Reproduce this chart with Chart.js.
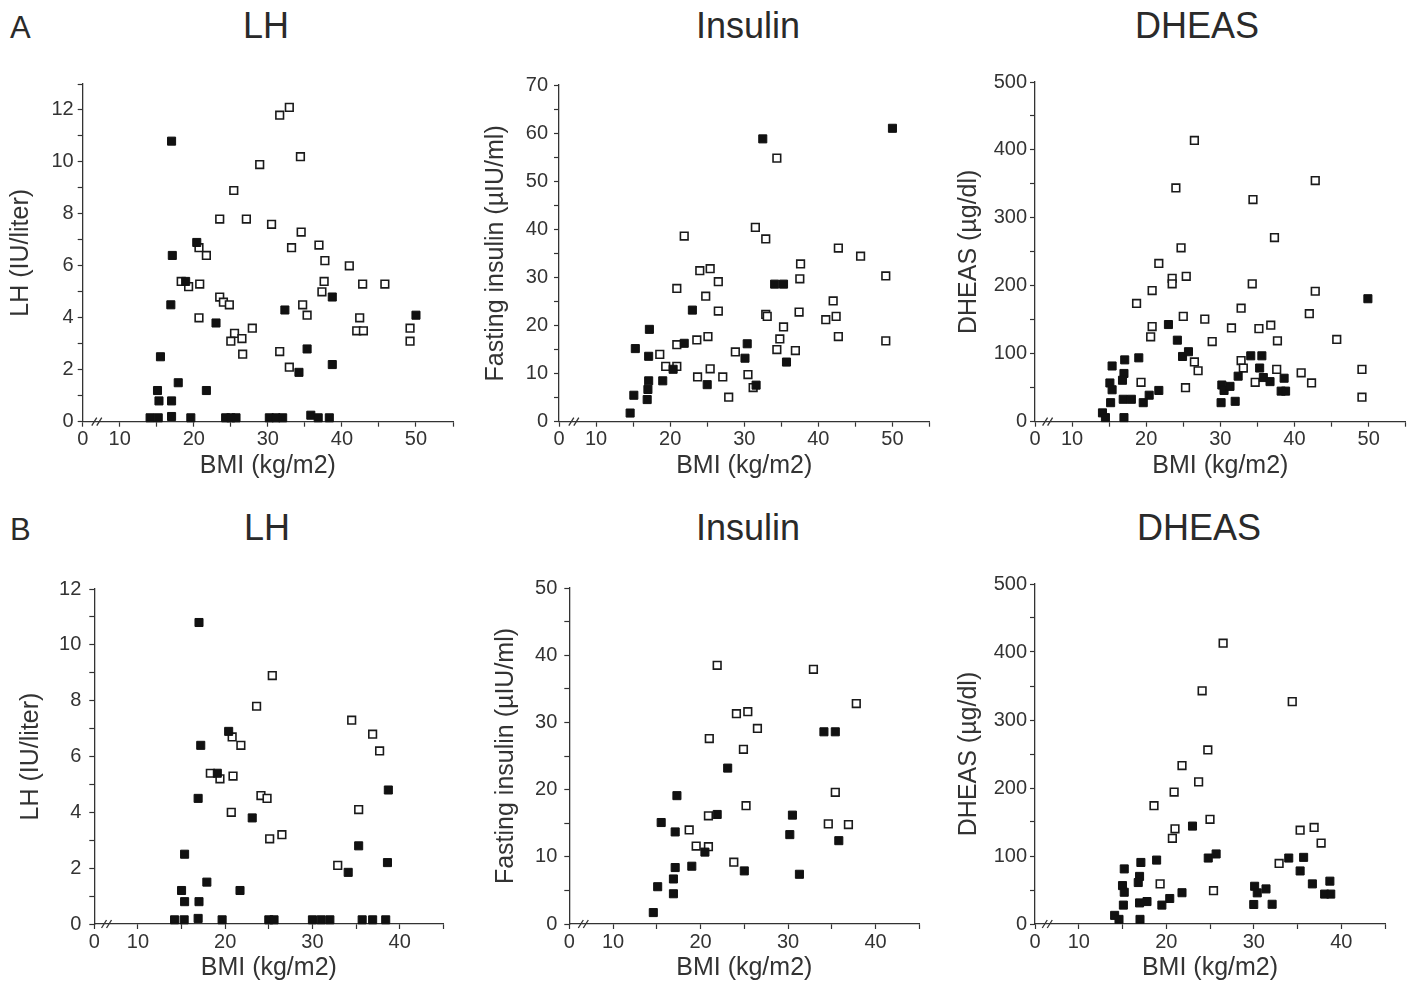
<!DOCTYPE html>
<html>
<head>
<meta charset="utf-8">
<script src="https://cdn.jsdelivr.net/npm/chart.js@4"></script>
<style>
  html, body { margin: 0; padding: 0; background: #fff; overflow: hidden; }
  body { width: 1417px; height: 989px; position: relative; font-family: 'Liberation Sans', Arial, sans-serif; color: #2a2a2a; }
  canvas { position: absolute; }
  .lbl { position: absolute; line-height: 1; white-space: nowrap; transform: translate(-50%, -50%); }
  .row { font-size: 31px; transform: translate(0, -50%); }
  .ttl { font-size: 36px; }
</style>
</head>
<body>
<div class="lbl row" style="left:10px; top:27px;">A</div>
<div class="lbl row" style="left:10px; top:529px;">B</div>
<div class="lbl ttl" style="left:266px; top:26px;">LH</div>
<div class="lbl ttl" style="left:748px; top:26px;">Insulin</div>
<div class="lbl ttl" style="left:1197px; top:26px;">DHEAS</div>
<div class="lbl ttl" style="left:267px; top:528px;">LH</div>
<div class="lbl ttl" style="left:748px; top:528px;">Insulin</div>
<div class="lbl ttl" style="left:1199px; top:528px;">DHEAS</div>

<canvas id="aLh"></canvas>
<canvas id="aIns"></canvas>
<canvas id="aDh"></canvas>
<canvas id="bLh"></canvas>
<canvas id="bIns"></canvas>
<canvas id="bDh"></canvas>

<script>
// ---- data: [BMI, value] ----
// filled squares and open squares
const aLhFilled = [[17.0,10.8],[17.1,6.4],[16.9,4.5],[20.4,6.9],[18.9,5.4],[23.0,3.8],[15.5,2.5],[15.1,1.2],[15.3,0.8],[17.0,0.8],[17.9,1.5],[21.7,1.2],[32.3,4.3],[35.3,2.8],[34.2,1.9],[38.7,4.8],[38.7,2.2],[50.0,4.1],
  [14.1,0.15],[15.2,0.15],[17.0,0.2],[19.6,0.15],[24.3,0.15],[25.0,0.15],[25.7,0.15],[30.2,0.15],[31.1,0.15],[32.0,0.15],[35.8,0.25],[36.8,0.15],[38.3,0.15]];
const aLhOpen = [[32.9,12.1],[31.6,11.8],[34.4,10.2],[28.9,9.9],[25.4,8.9],[23.5,7.8],[27.1,7.8],[30.5,7.6],[34.5,7.3],[33.2,6.7],[36.9,6.8],[20.7,6.7],[21.7,6.4],[37.7,6.2],[41.0,6.0],[18.3,5.4],[19.3,5.2],[20.8,5.3],[37.6,5.4],[37.3,5.0],[42.8,5.3],[45.8,5.3],[23.5,4.8],[24.0,4.6],[24.8,4.5],[34.7,4.5],[35.3,4.1],[20.7,4.0],[42.4,4.0],[42.0,3.5],[42.9,3.5],[49.2,3.6],[49.2,3.1],[27.9,3.6],[25.5,3.4],[25.0,3.1],[26.5,3.2],[26.6,2.6],[31.6,2.7],[32.9,2.1]];

const aInsFilled = [[32.5,58.8],[50.0,61.0],[23.0,23.2],[17.2,19.2],[15.3,15.2],[17.1,13.6],[21.9,16.3],[17.1,8.5],[17.0,6.7],[16.9,4.6],[15.1,5.5],[14.6,1.8],[19.0,8.5],[20.4,10.9],[25.0,7.7],[30.4,16.2],[30.1,13.2],[31.6,7.6],[34.1,28.6],[35.3,28.6],[35.7,12.4]];
const aInsOpen = [[34.4,54.8],[31.5,40.4],[32.9,38.0],[21.9,38.6],[24.0,31.4],[25.4,31.8],[20.9,27.7],[26.5,29.1],[24.8,26.1],[26.5,23.0],[23.6,17.0],[25.1,17.7],[20.9,16.0],[18.6,14.0],[19.4,11.5],[20.9,11.5],[23.7,9.3],[25.4,11.0],[27.1,9.3],[27.9,5.1],[28.8,14.5],[30.5,9.8],[31.2,7.1],[32.9,22.3],[33.1,21.9],[37.6,32.8],[37.5,29.7],[37.4,22.8],[35.3,19.7],[34.8,17.2],[34.4,15.0],[36.9,14.8],[42.7,36.1],[45.7,34.4],[42.0,25.1],[41.0,21.2],[42.4,21.9],[42.7,17.7],[49.1,30.3],[49.1,16.8]];

const aDhFilled = [[49.9,181],[23.0,143],[24.2,120],[24.9,96],[25.7,103],[19.0,94],[17.1,91],[15.4,82],[17.0,71],[16.8,61],[15.1,57],[15.4,47],[15.2,28],[16.9,33],[18.0,33],[19.6,28],[20.4,39],[21.7,46],[14.1,13],[14.5,6],[17.0,6],[30.1,28],[30.2,54],[30.5,46],[31.3,52],[32.0,30],[32.4,67],[34.1,97],[35.6,97],[35.3,79],[35.8,65],[36.7,59],[38.6,64],[38.2,45],[38.8,45]];
const aDhOpen = [[26.5,414],[24.0,344],[34.4,327],[42.8,355],[37.3,271],[24.7,256],[21.7,233],[23.5,211],[23.5,203],[25.4,214],[20.8,193],[18.7,174],[34.3,203],[42.8,192],[32.8,167],[25.0,155],[27.9,151],[20.8,140],[20.6,125],[28.9,118],[31.5,138],[35.2,137],[36.8,142],[37.7,119],[42.0,159],[45.7,121],[49.1,77],[49.1,36],[26.5,88],[27.0,75],[25.3,50],[19.3,58],[32.8,90],[33.1,79],[34.7,58],[37.6,77],[40.9,72],[42.3,57]];

const bLhFilled = [[17.0,10.8],[17.2,6.4],[16.9,4.5],[20.4,6.9],[19.1,5.4],[23.1,3.8],[15.35,2.5],[15.0,1.2],[15.35,0.8],[17.0,0.8],[17.9,1.5],[21.7,1.2],[34.1,1.85],[35.3,2.8],[38.7,4.8],[38.6,2.2],
  [14.2,0.15],[15.3,0.15],[16.9,0.2],[19.65,0.15],[25.0,0.15],[25.6,0.15],[30.0,0.15],[31.0,0.15],[32.0,0.15],[35.7,0.15],[36.9,0.15],[38.4,0.15]];
const bLhOpen = [[25.4,8.9],[23.6,7.8],[34.5,7.3],[36.9,6.8],[20.8,6.7],[21.8,6.4],[37.7,6.2],[18.3,5.4],[19.4,5.2],[20.9,5.3],[24.1,4.6],[24.8,4.5],[20.7,4.0],[35.3,4.1],[25.1,3.05],[26.5,3.2],[32.9,2.1]];

const bInsFilled = [[23.1,23.2],[17.3,19.1],[15.5,15.1],[17.1,13.7],[21.9,16.3],[17.1,8.4],[16.9,6.7],[16.9,4.5],[15.1,5.55],[14.6,1.7],[19.0,8.6],[20.5,10.7],[25.0,7.9],[30.5,16.2],[30.2,13.3],[31.3,7.4],[34.1,28.6],[35.4,28.6],[35.8,12.4]];
const bInsOpen = [[21.9,38.5],[32.9,37.9],[37.8,32.8],[24.1,31.3],[25.4,31.6],[26.5,29.1],[21.0,27.6],[24.9,26.0],[35.4,19.6],[25.2,17.6],[20.9,16.1],[34.6,14.9],[36.9,14.8],[18.7,14.0],[19.5,11.6],[20.9,11.5],[23.8,9.2]];

const bDhFilled = [[23.0,144],[24.8,97],[25.7,103],[18.9,94],[17.1,90.5],[15.2,81],[16.95,70],[16.8,61],[15.0,56.5],[15.2,46.7],[15.1,27.8],[16.95,31],[17.8,33],[19.5,27.8],[20.4,37.5],[21.8,46],[14.1,12.7],[14.6,6.8],[17.0,6.8],[30.0,28.7],[30.1,55.5],[30.4,45.8],[31.4,51.6],[32.1,29],[34.0,97],[35.7,98],[35.3,78],[36.7,59],[38.7,63],[38.1,44],[38.8,44]];
const bDhOpen = [[26.5,413],[24.1,343],[34.4,327],[24.75,256],[21.8,233],[23.7,209],[20.9,194],[18.6,174],[25.0,154],[21.0,140],[20.7,126],[35.3,138],[36.9,142],[37.7,119],[32.9,89],[19.3,59],[25.4,49]];

// ---- ticks (x axis is broken: 5 is drawn as the origin "0") ----
const xTicksA = [5,10,15,20,25,30,35,40,45,50,55];
const xLabelsA = ['0','10','','20','','30','','40','','50',''];
const xTicksB = [5,10,15,20,25,30,35,40,45];
const xLabelsB = ['0','10','','20','','30','','40',''];

const yTicksLhA = [0,1,2,3,4,5,6,7,8,9,10,11,12,13];
const yLabelsLhA = ['0','','2','','4','','6','','8','','10','','12',''];
const yTicksInsA = [0,5,10,15,20,25,30,35,40,45,50,55,60,65,70];
const yLabelsInsA = ['0','','10','','20','','30','','40','','50','','60','','70'];
const yTicksDh = [0,50,100,150,200,250,300,350,400,450,500];
const yLabelsDh = ['0','','100','','200','','300','','400','','500'];
const yTicksLhB = [0,1,2,3,4,5,6,7,8,9,10,11,12];
const yLabelsLhB = ['0','','2','','4','','6','','8','','10','','12'];
const yTicksInsB = [0,5,10,15,20,25,30,35,40,45,50];
const yLabelsInsB = ['0','','10','','20','','30','','40','','50'];

const xTitle = 'BMI (kg/m2)';

Chart.defaults.font.family = "'Liberation Sans', Arial, sans-serif";
Chart.defaults.color = '#333';

const ink = '#333';
const tickFont = 20;
const titleFont = 25;

// the little "//" on the x axis
function axisBreak(at) {
  return {
    id: 'axisBreak',
    afterDraw(chart) {
      const ctx = chart.ctx;
      const x = chart.scales.x.getPixelForValue(at);
      const y = chart.scales.y.getPixelForValue(0);
      ctx.save();
      ctx.strokeStyle = ink;
      ctx.lineWidth = 1.3;
      [-2.5, 2.5].forEach(dx => {
        ctx.beginPath();
        ctx.moveTo(x + dx - 2.5, y + 4);
        ctx.lineTo(x + dx + 2.5, y - 4);
        ctx.stroke();
      });
      ctx.restore();
    }
  };
}

function makePanel(cfg) {
  const canvas = document.getElementById(cfg.id);
  const half = titleFont / 2;
  const cl = Math.floor(cfg.yTitleX - half);
  const ct = Math.floor(cfg.top - 12);
  const cr = Math.min(cfg.right + 12, 1417);
  const cw = Math.round(cr - cl);
  const ch = Math.round(cfg.xTitleY + half - ct);
  canvas.style.left = cl + 'px';
  canvas.style.top = ct + 'px';
  canvas.width = cw;
  canvas.height = ch;
  canvas.style.width = cw + 'px';
  canvas.style.height = ch + 'px';

  const yWidth = cfg.left - cl;
  const xHeight = ct + ch - cfg.bottom;

  const axisBase = {
    grid: { display: true, drawOnChartArea: false, drawTicks: true, tickLength: 5, tickColor: ink, tickWidth: 1.2 },
    border: { display: true, color: ink, width: 1.3 },
  };

  new Chart(canvas, {
    type: 'scatter',
    data: {
      datasets: [
        {
          data: cfg.filled.map(([x, y]) => ({ x, y })),
          pointStyle: 'rect',
          pointRadius: 5.7,
          backgroundColor: '#111',
          borderColor: '#111',
          borderWidth: 1,
          clip: false,
        },
        {
          data: cfg.open.map(([x, y]) => ({ x, y })),
          pointStyle: 'rect',
          pointRadius: 5.4,
          backgroundColor: '#fff',
          borderColor: '#1a1a1a',
          borderWidth: 1.6,
          clip: false,
        },
      ],
    },
    options: {
      responsive: false,
      animation: false,
      layout: { padding: { left: 0, bottom: 0, top: cfg.top - ct, right: cl + cw - cfg.right } },
      plugins: { legend: { display: false }, tooltip: { enabled: false } },
      scales: {
        x: {
          ...axisBase,
          type: 'linear',
          min: cfg.xTicks[0],
          max: cfg.xTicks[cfg.xTicks.length - 1],
          afterBuildTicks: s => { s.ticks = cfg.xTicks.map(v => ({ value: v })); },
          afterFit: s => { s.height = xHeight; },
          ticks: {
            autoSkip: false, maxRotation: 0, padding: 1, color: ink,
            font: { size: tickFont },
            callback: (v, i) => cfg.xLabels[i],
          },
          title: { display: true, text: xTitle, color: ink, padding: 0, font: { size: titleFont, lineHeight: 1 } },
        },
        y: {
          ...axisBase,
          type: 'linear',
          min: 0,
          max: cfg.yTicks[cfg.yTicks.length - 1],
          afterBuildTicks: s => { s.ticks = cfg.yTicks.map(v => ({ value: v })); },
          afterFit: s => { s.width = yWidth; },
          ticks: {
            autoSkip: false, padding: cfg.yPad, color: ink,
            font: { size: tickFont },
            callback: (v, i) => cfg.yLabels[i],
          },
          title: { display: true, text: cfg.yTitle, color: ink, padding: 0, font: { size: titleFont, lineHeight: 1 } },
        },
      },
    },
    plugins: [axisBreak(cfg.breakAt)],
  });
}

makePanel({ id: 'aLh', left: 82.7, top: 80, right: 453, bottom: 421.7, yTitleX: 21.7, xTitleY: 466, yPad: 4,
  filled: aLhFilled, open: aLhOpen, xTicks: xTicksA, xLabels: xLabelsA, yTicks: yTicksLhA, yLabels: yLabelsLhA,
  yTitle: 'LH (IU/liter)', breakAt: 6.9 });
makePanel({ id: 'aIns', left: 559, top: 79.3, right: 929.5, bottom: 421.7, yTitleX: 496.7, xTitleY: 466, yPad: 6,
  filled: aInsFilled, open: aInsOpen, xTicks: xTicksA, xLabels: xLabelsA, yTicks: yTicksInsA, yLabels: yLabelsInsA,
  yTitle: 'Fasting insulin (µIU/ml)', breakAt: 7.0 });
makePanel({ id: 'aDh', left: 1035, top: 79.3, right: 1405.7, bottom: 421.7, yTitleX: 970, xTitleY: 466, yPad: 3,
  filled: aDhFilled, open: aDhOpen, xTicks: xTicksA, xLabels: xLabelsA, yTicks: yTicksDh, yLabels: yLabelsDh,
  yTitle: 'DHEAS (µg/dl)', breakAt: 6.7 });
makePanel({ id: 'bLh', left: 94.3, top: 581.7, right: 443.3, bottom: 924, yTitleX: 31.7, xTitleY: 968, yPad: 8,
  filled: bLhFilled, open: bLhOpen, xTicks: xTicksB, xLabels: xLabelsB, yTicks: yTicksLhB, yLabels: yLabelsLhB,
  yTitle: 'LH (IU/liter)', breakAt: 6.4 });
makePanel({ id: 'bIns', left: 569.3, top: 581.7, right: 919.3, bottom: 924, yTitleX: 506.7, xTitleY: 968, yPad: 7,
  filled: bInsFilled, open: bInsOpen, xTicks: xTicksB, xLabels: xLabelsB, yTicks: yTicksInsB, yLabels: yLabelsInsB,
  yTitle: 'Fasting insulin (µIU/ml)', breakAt: 6.6 });
makePanel({ id: 'bDh', left: 1035, top: 581.7, right: 1385, bottom: 924, yTitleX: 970, xTitleY: 968, yPad: 3,
  filled: bDhFilled, open: bDhOpen, xTicks: xTicksB, xLabels: xLabelsB, yTicks: yTicksDh, yLabels: yLabelsDh,
  yTitle: 'DHEAS (µg/dl)', breakAt: 6.4 });
</script>
</body>
</html>
